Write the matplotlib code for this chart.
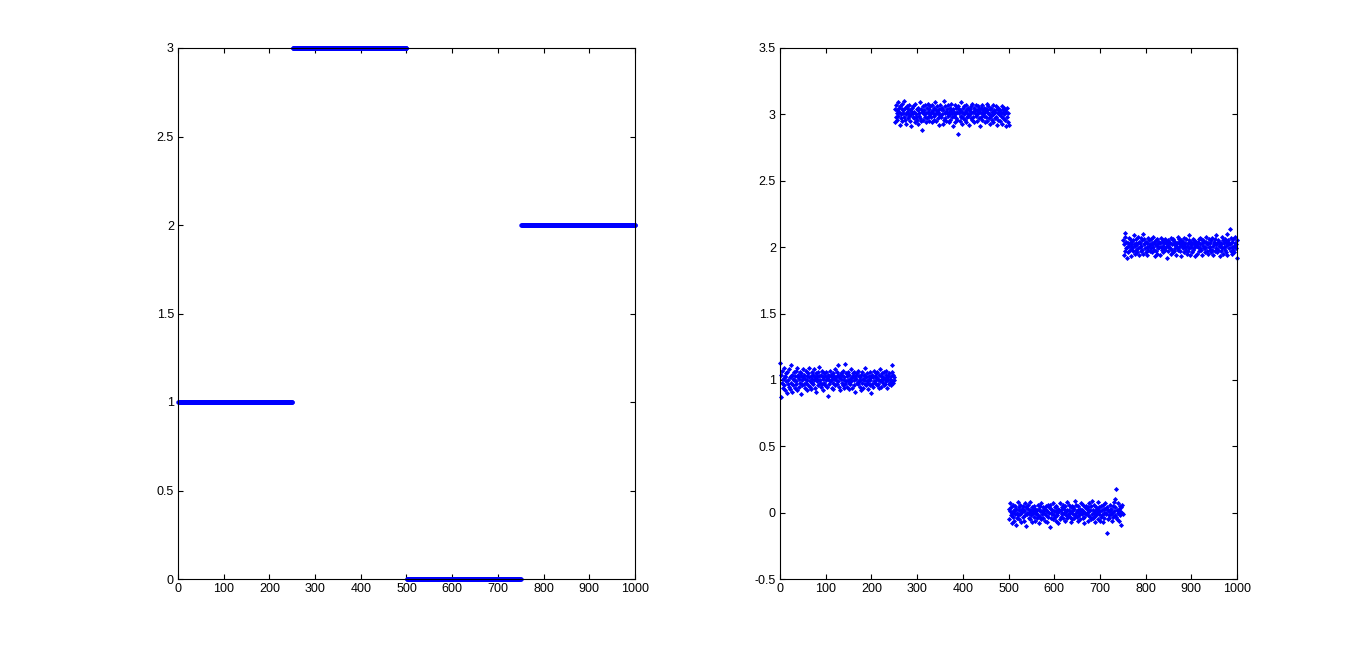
import numpy as np
import matplotlib
matplotlib.use("Agg")
import matplotlib.pyplot as plt

# step levels of the clean signal, 250 samples per level
levels = [1, 3, 0, 2]
n_per_level = 250

# noisy signal: offsets from each level, in hundredths
dev_seg1 = [13, -13, 4, -2, 7, -6, 1, 9, -4, 3, -8, 2, 5, -1, -10, 6, 0, -3, 8, -5,
            2, -7, 11, 3, -2, 4, -9, 1, -4, 6, 0, 3, -6, 7, -1, -3, 9, -8, 2, 4,
            -5, 1, 6, -2, 3, -11, 5, 0, -4, 8, 2, -3, 4, -6, 1, 7, -2, -8, 3, 0,
            5, -4, 2, 9, -1, -5, 3, -7, 6, 1, -2, 4, -3, 0, 8, -6, 2, 5, -9, 3,
            1, -1, 6, -4, 3, 10, -2, 0, -5, 4, -3, 7, 1, -8, 2, -2, 5, -4, 3, 0,
            6, -5, 2, 4, -12, 1, 3, -3, 7, -1, 0, 4, -6, 2, 5, -2, -7, 3, 1, 8,
            -4, 2, 0, -3, 6, 11, -1, 4, -5, 2, 3, -8, 5, 1, -2, 4, -4, 7, 0, -6,
            2, 12, -3, 5, -1, 3, -5, 0, 6, -2, -7, 4, 1, -3, 8, -1, 2, -6, 3, 5,
            0, -4, 6, 2, -9, 4, 1, -2, 5, -3, 7, -1, 3, -5, 0, 2, -8, 4, -2, 6,
            1, -6, 4, 0, 3, -3, 9, -4, 2, -1, 5, -2, -7, 3, 1, 6, -4, 0, -10, 2,
            -3, 4, 2, -5, 7, -1, 3, -2, 0, 5, 2, -4, 6, 1, -3, 4, -6, 8, -1, 0,
            -5, 3, 0, 5, -2, 2, -4, 6, 1, -3, 4, -1, 7, -6, 2, 0, 3, -3, 5, -2,
            1, 3, -4, 6, -1, 11, -2, 4, 0, 2]
dev_seg2 = [-6, 4, -2, 7, 1, -4, 3, 9, -1, 5, 2, -8, 6, 0, -3, 4, 8, -5, 1, 3,
            -2, 10, -4, 5, 0, -7, 2, 6, -3, 1, 4, -1, 7, -5, 3, 0, -9, 2, 5, -2,
            1, 6, -3, 2, -6, 8, 0, -2, 4, -4, 3, -7, 5, 1, -1, 9, -3, 4, -5, 2,
            -12, 2, 6, -4, 3, 0, 7, -2, 1, -6, 5, -3, 2, 8, -1, 4, -5, 0, 6, 2,
            -2, 7, -6, 3, 1, -4, 5, -1, 9, 0, 3, -5, 1, 6, -3, 2, -8, 4, 0, 7,
            -1, 4, -2, 0, 5, -7, 3, 10, -4, 1, 6, -3, 2, -5, 1, 4, -1, 7, -6, 2,
            0, 5, -4, 3, 8, -2, 1, -9, 4, -1, 2, -6, 7, 0, -3, 5, 2, -4, 6, -15,
            4, 1, -5, 3, -2, 9, -1, 2, -7, 5, -3, 6, 0, -4, 2, 7, -6, 3, 1, -2,
            5, -1, 3, -8, 4, 0, 6, -3, 2, 8, -4, 2, -2, 5, -6, 3, 1, 7, -1, 0,
            3, -5, 6, 1, -3, 4, -9, 2, 5, -2, 1, 7, -4, 0, 3, -1, 5, -6, 2, 4,
            -2, 3, 8, -5, 1, 6, -3, 0, 4, -7, 5, -1, 2, -4, 7, 0, -6, 3, 1, -3,
            2, 6, -2, 4, -8, 1, 5, -4, 3, 0, -5, 3, 1, -1, 6, -7, 2, 4, -3, 5,
            0, -4, 3, -9, 2, 5, -2, -6, 1, -8]
dev_seg3 = [3, -5, 7, 1, -2, 4, -8, 0, 6, -3, 2, -6, 1, 5, -1, -9, 3, 0, -4, 8,
            -2, 4, -5, 2, 6, -1, 0, -7, 3, 1, 5, -3, 1, -6, 2, 7, -2, 4, -10, 0,
            -1, 3, 6, -4, 0, 2, -5, 8, -2, 1, 4, -7, 2, 0, -3, 5, 1, -6, 3, -1,
            0, 2, -4, 6, -2, 3, -8, 1, 5, -3, -5, 7, 1, -1, 4, -4, 2, 0, -6, 3,
            2, -2, 5, -7, 1, 6, -3, 4, 0, -11, 6, 0, -4, 3, -1, 2, 7, -5, 1, -2,
            -3, 4, 1, -6, 5, 0, -2, 3, -8, 2, 1, -5, 7, 2, -3, 4, -1, 0, 6, -4,
            3, 0, -6, 5, 1, -2, 8, -4, 2, -1, -2, 6, 2, -3, 0, 4, -7, 1, 5, -5,
            4, -1, 3, -4, 9, -2, 0, 6, -3, 1, -6, 2, 5, 0, -2, 3, -5, 7, 1, -1,
            2, -4, 1, 6, -3, -8, 4, 0, -1, 5, 0, 3, -2, 4, -6, 1, 7, -3, 2, -5,
            5, -1, 9, -4, 2, 0, -3, 6, -7, 1, -2, 4, 0, 3, -5, 8, 1, -1, 4, -6,
            1, -3, 5, -2, 2, -7, 6, 0, -4, 3, 3, 7, -1, 0, -15, 4, 2, -5, 1, -2,
            -4, 2, 6, -1, 3, -6, 0, 5, -3, 8, 1, 4, -2, 10, 18, -3, 2, -5, 7, 0,
            -6, 3, 1, 5, -2, 4, -9, 0, 6, -1]
dev_seg4 = [5, -6, 2, 8, -3, 11, -1, 4, -8, 0, 3, -4, 7, 1, -2, 6, -7, 2, 4, -1,
            0, 5, -3, 9, 2, -5, 1, -2, 6, 3, -4, 2, 8, -1, 4, -6, 3, 0, -3, 7,
            1, -2, 5, 10, -5, 2, 6, -1, 3, -4, 4, 0, -6, 3, 7, -2, 1, 5, -3, 2,
            -1, 6, 2, -4, 3, 0, 8, -2, 4, -7, 2, -3, 5, 1, -5, 6, -1, 3, 0, 4,
            -6, 3, 0, 7, -2, 4, 1, -4, 5, -1, 3, -2, 6, 0, 4, -8, 2, 5, -3, 1,
            0, 4, -1, 3, -5, 7, -2, 2, 6, -4, 5, -3, 2, -1, 4, 1, -6, 3, 0, 8,
            -2, 6, 0, 4, -3, 2, 5, -7, 1, 3, 4, -1, 7, -4, 2, 0, 3, -2, 6, -5,
            1, 3, -3, 5, -1, 9, -6, 2, 4, 0, -4, 2, 6, -2, 3, -1, 5, 1, -7, 4,
            2, -5, 1, 4, 0, 6, -3, 7, -1, 2, 6, -2, 3, -6, 5, 1, -1, 4, -4, 0,
            -1, 4, 8, -3, 2, -5, 3, 0, 6, -2, 3, 0, -4, 5, -2, 7, 1, -6, 2, 4,
            -3, 6, 2, -1, 9, -4, 3, 5, -2, 1, 4, -7, 1, 3, -3, 2, 8, -1, 5, -5,
            0, 3, -2, 6, 1, -4, 4, 10, -6, 2, 5, -1, 3, 14, 2, -3, 7, 0, -5, 4,
            -2, 6, 1, -4, 3, 8, -1, 2, -8, 5]

plt.rcParams['font.family'] = ['Liberation Sans', 'DejaVu Sans']
plt.rcParams['font.size'] = 9

x = np.arange(1, len(levels) * n_per_level + 1)
clean = np.repeat(levels, n_per_level).astype(float)
devs = np.array(dev_seg1 + dev_seg2 + dev_seg3 + dev_seg4) / 100.0
noisy = clean + devs

fig = plt.figure(figsize=(13.67, 6.52), dpi=100)
ax1 = fig.add_axes([178 / 1367, 73 / 652, 457 / 1367, 531 / 652])
ax2 = fig.add_axes([780 / 1367, 73 / 652, 457 / 1367, 531 / 652])

ax1.plot(x, clean, linestyle='none', marker='o', ms=3.2, mew=0, color='#0000ff', clip_on=False)
ax2.plot(x, noisy, linestyle='none', marker='D', ms=2.6, mew=0, color='#0000ff', clip_on=False)

ax1.set_xlim(0, 1000)
ax1.set_ylim(0, 3)
ax1.set_yticks(np.arange(0, 3.01, 0.5))
ax1.set_yticklabels(['0', '0.5', '1', '1.5', '2', '2.5', '3'])

ax2.set_xlim(0, 1000)
ax2.set_ylim(-0.5, 3.5)
ax2.set_yticks(np.arange(-0.5, 3.51, 0.5))
ax2.set_yticklabels(['-0.5', '0', '0.5', '1', '1.5', '2', '2.5', '3', '3.5'])

for ax in (ax1, ax2):
    ax.set_xticks(np.arange(0, 1001, 100))
    ax.tick_params(direction='in', top=True, right=True, length=3.5, width=0.8, pad=3, labelsize=9)
    for s in ax.spines.values():
        s.set_linewidth(0.8)

fig.savefig('out.png', dpi=100)
